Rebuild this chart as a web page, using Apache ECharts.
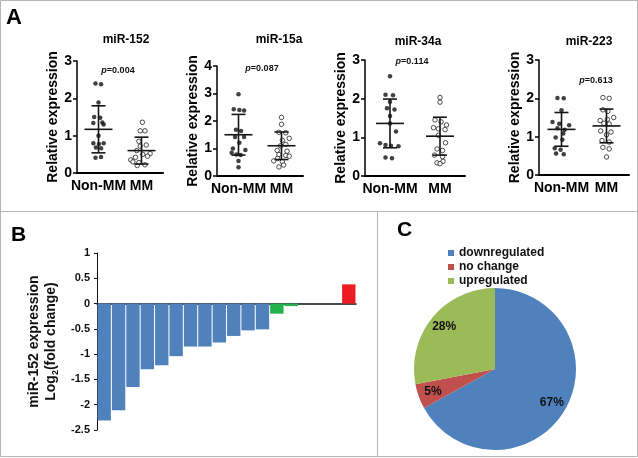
<!DOCTYPE html>
<html><head><meta charset="utf-8">
<script src="https://cdn.jsdelivr.net/npm/echarts@6/dist/echarts.min.js"></script>
<style>html,body{margin:0;padding:0;background:#fff}#c{width:638px;height:458px}</style>
</head><body><div id="c"></div>
<script>
// ---------- DATA ----------
const groups = ['Non-MM', 'MM'];
const panelTitles = ['miR-152', 'miR-15a', 'miR-34a', 'miR-223'];
const pValues = ['0.004', '0.087', '0.114', '0.613'];
const yMaxes = [3, 4, 3, 3];

// points: [jitter within category, relative expression]
const mir152NonMM = [[-0.07,2.40],[0.06,2.38],[0,1.89],[-0.10,1.50],[0.04,1.48],[-0.12,1.34],[0.09,1.35],[0.12,1.30],[0,1.00],[-0.12,0.80],[0.01,0.78],[0.12,0.80],[-0.06,0.68],[0.06,0.66],[-0.07,0.41],[0.06,0.43]];
const mir152MM = [[0.02,1.36],[-0.03,1.13],[0.08,1.13],[-0.06,0.85],[0.11,0.75],[-0.03,0.72],[-0.11,0.60],[0.20,0.52],[0.03,0.50],[0.14,0.45],[-0.14,0.42],[-0.25,0.35],[-0.20,0.30],[-0.06,0.28],[0.08,0.22],[-0.10,0.20]];
const mir15aNonMM = [[0,2.97],[-0.11,2.43],[0.02,2.40],[0.13,2.38],[-0.06,1.68],[0.06,1.64],[-0.08,1.42],[0.13,1.42],[0.02,1.21],[-0.13,1.00],[0.16,0.95],[-0.16,0.85],[-0.05,0.78],[0.05,0.76],[0,0.55],[0,0.32]];
const mir15aMM = [[0,2.13],[0,1.88],[-0.06,1.59],[0.10,1.57],[0.18,1.37],[0.02,1.30],[0.10,1.15],[-0.02,1.10],[-0.10,0.93],[0.13,0.90],[-0.06,0.78],[0.10,0.75],[0.18,0.72],[-0.09,0.64],[-0.18,0.55],[0.02,0.52],[0.05,0.40],[-0.06,0.33]];
const mir34aNonMM = [[0,2.58],[-0.09,2.10],[0.06,2.09],[0,1.92],[-0.06,1.75],[0.09,1.72],[0,1.55],[0,1.36],[0.12,1.15],[-0.20,0.85],[-0.09,0.80],[0.02,0.78],[0.17,0.77],[-0.09,0.48],[0.04,0.46]];
const mir34aMM = [[0,2.03],[0,1.91],[-0.10,1.45],[0.02,1.40],[0.13,1.32],[-0.13,1.25],[-0.03,1.22],[0.10,1.20],[-0.03,1.05],[0.11,0.86],[-0.06,0.70],[0.05,0.66],[-0.11,0.54],[0.05,0.50],[0.06,0.38],[-0.06,0.34],[0,0.32]];
const mir223NonMM = [[-0.09,2.01],[0.05,2.00],[0,1.69],[-0.20,1.38],[-0.05,1.34],[0.17,1.30],[-0.09,1.22],[0.07,1.18],[0.04,1.08],[-0.13,0.98],[0.02,0.92],[-0.15,0.70],[-0.02,0.66],[-0.12,0.56],[0.05,0.54]];
const mir223MM = [[-0.08,2.02],[0.06,2.00],[-0.08,1.70],[0.03,1.66],[0.16,1.50],[0.02,1.45],[-0.14,1.42],[-0.06,1.35],[0.06,1.33],[-0.13,1.15],[0.10,1.12],[0,1.05],[-0.10,0.90],[0.06,0.86],[-0.08,0.72],[0.06,0.68],[0,0.47]];

// mean and SD per group [Non-MM, MM]
const mir152Mean = [1.17, 0.60], mir152SD = [0.63, 0.36];
const mir15aMean = [1.50, 1.10], mir15aSD = [0.74, 0.50];
const mir34aMean = [1.36, 1.03], mir34aSD = [0.63, 0.49];
const mir223Mean = [1.19, 1.28], mir223SD = [0.44, 0.44];

// panel B
const bCategories = ['1','2','3','4','5','6','7','8','9','10','11','12','13','14','15','16','17','18'];
const bValues = [-2.31,-2.11,-1.65,-1.30,-1.22,-1.04,-0.85,-0.85,-0.77,-0.64,-0.53,-0.51,-0.20,-0.05,null,null,null,0.38];
const bGroup = ['down','down','down','down','down','down','down','down','down','down','down','down','small','small',null,null,null,'up'];
const bTicks = [-2.5,-2,-1.5,-1,-0.5,0,0.5,1];

// panel C
const pieNames = ['downregulated', 'no change', 'upregulated'];
const pieValues = [67, 5, 28];

// ---------- STYLE / LAYOUT ----------
const FONT = '"Liberation Sans", Arial, sans-serif';
const panelPts = [[mir152NonMM, mir152MM],[mir15aNonMM, mir15aMM],[mir34aNonMM, mir34aMM],[mir223NonMM, mir223MM]];
const panelMean = [mir152Mean, mir15aMean, mir34aMean, mir223Mean];
const panelSD = [mir152SD, mir15aSD, mir34aSD, mir223SD];
const layout = [
  {left:77, top:61, width:86, height:112, gap:14, title:[126,40], p:[118,71]},
  {left:217, top:66, width:86, height:110, gap:11, title:[279,40], p:[262,69]},
  {left:365, top:60, width:100, height:116, gap:13, title:[418,42], p:[412,62]},
  {left:539, top:60, width:90, height:115, gap:15, title:[589,42], p:[596,81]}
];
const barColor = {down:'#4f81bd', small:'#22b14c', up:'#ed1c24'};
const pieColors = ['#4f81bd', '#c0504d', '#9bbb59'];

const grids = [], xAxes = [], yAxes = [], series = [];
function errRender(params, api) {
  const x = api.value(0), m = api.value(1), s = api.value(2);
  const c = api.coord([x, m]), t = api.coord([x, m + s]), b = api.coord([x, m - s]);
  const st = {stroke:'#151515', lineWidth:1.6};
  return {type:'group', children:[
    {type:'line', shape:{x1:c[0]-14, y1:c[1], x2:c[0]+14, y2:c[1]}, style:st},
    {type:'line', shape:{x1:t[0]-7, y1:t[1], x2:t[0]+7, y2:t[1]}, style:st},
    {type:'line', shape:{x1:b[0]-7, y1:b[1], x2:b[0]+7, y2:b[1]}, style:st},
    {type:'line', shape:{x1:t[0], y1:t[1], x2:b[0], y2:b[1]}, style:st}
  ]};
}
layout.forEach((L, i) => {
  grids.push({left:L.left, top:L.top, width:L.width, height:L.height, containLabel:false});
  xAxes.push({type:'category', gridIndex:i, data:groups,
    axisLine:{lineStyle:{color:'#000', width:2}},
    axisTick:{alignWithLabel:true, length:4, lineStyle:{color:'#000', width:1.5}},
    axisLabel:{interval:0, color:'#000', fontWeight:'bold', fontSize:14, fontFamily:FONT, margin:6}});
  xAxes.push({type:'value', gridIndex:i, min:0, max:2, show:false});
  yAxes.push({type:'value', gridIndex:i, min:0, max:yMaxes[i], interval:1,
    axisLine:{show:true, lineStyle:{color:'#000', width:1.5}},
    axisTick:{show:true, length:4, lineStyle:{color:'#000', width:1.5}},
    splitLine:{show:false},
    axisLabel:{color:'#000', fontWeight:'bold', fontSize:14, fontFamily:FONT, margin:5},
    name:'Relative expression', nameLocation:'middle', nameGap:L.gap,
    nameTextStyle:{color:'#000', fontWeight:'bold', fontSize:14, fontFamily:FONT}});
  const xi = 2*i + 1;
  series.push({type:'scatter', xAxisIndex:xi, yAxisIndex:i, symbol:'circle', symbolSize:4.5,
    itemStyle:{color:'#111'}, data:panelPts[i][0].map(p => [0.5 + p[0], p[1]]), z:3});
  series.push({type:'scatter', xAxisIndex:xi, yAxisIndex:i, symbol:'circle', symbolSize:4.5,
    itemStyle:{color:'#fff', borderColor:'#222', borderWidth:1}, data:panelPts[i][1].map(p => [1.5 + p[0], p[1]]), z:3});
  series.push({type:'custom', xAxisIndex:xi, yAxisIndex:i, renderItem:errRender, z:5,
    encode:{x:0, y:1},
    data:groups.map((g, k) => [k + 0.5, panelMean[i][k], panelSD[i][k]])});
});

// panel B
grids.push({left:97, top:253, width:259, height:177});
xAxes.push({type:'category', gridIndex:4, data:bCategories,
  axisLine:{onZero:true, lineStyle:{color:'#111', width:1.5}}, axisTick:{show:false}, axisLabel:{show:false}});
yAxes.push({type:'value', gridIndex:4, min:bTicks[0], max:bTicks[bTicks.length-1], interval:0.5,
  axisLine:{show:true, lineStyle:{color:'#111', width:1}},
  axisTick:{show:true, length:3, lineStyle:{color:'#111'}},
  splitLine:{show:false},
  axisLabel:{color:'#111', fontWeight:'bold', fontSize:11, fontFamily:FONT, margin:7},
  name:'miR-152 expression\nLog{sub|2}(fold change)', nameLocation:'middle', nameGap:37,
  nameTextStyle:{color:'#111', fontWeight:'bold', fontSize:14, lineHeight:17, fontFamily:FONT,
    rich:{sub:{fontSize:9, fontWeight:'bold', fontFamily:FONT, verticalAlign:'bottom', color:'#111'}}}});
series.push({type:'bar', xAxisIndex:8, yAxisIndex:4, barCategoryGap:'7%',
  data:bValues.map((v, k) => ({value:v, itemStyle:{color: bGroup[k] ? barColor[bGroup[k]] : '#fff'}}))});

// panel C
series.push({type:'pie', center:[495,369], radius:81, startAngle:90, clockwise:true,
  label:{show:false}, labelLine:{show:false}, emphasis:{disabled:true},
  data:pieNames.map((n, k) => ({name:n, value:pieValues[k], itemStyle:{color:pieColors[k]}}))});
series.push({type:'pie', center:[495,369], radius:[45,81], startAngle:90, clockwise:true, silent:true,
  legendHoverLink:false, emphasis:{disabled:true}, labelLine:{show:false},
  label:{show:true, position:'inside', formatter:'{c}%', color:'#111', fontWeight:'bold', fontSize:12, fontFamily:FONT},
  data:pieNames.map((n, k) => ({name:n, value:pieValues[k], itemStyle:{color:'rgba(0,0,0,0)'}}))});

// texts & frames
const gfx = [
  {type:'rect', silent:true, z:-10, shape:{x:0.5, y:0.5, width:637, height:456}, style:{fill:'none', stroke:'#b5b5b5', lineWidth:1}},
  {type:'line', silent:true, shape:{x1:0.5, y1:211.5, x2:637.5, y2:211.5}, style:{stroke:'#b5b5b5', lineWidth:1}},
  {type:'line', silent:true, shape:{x1:377.5, y1:211.5, x2:377.5, y2:456.5}, style:{stroke:'#b5b5b5', lineWidth:1}},
  {type:'text', x:14, y:18, style:{text:'A', font:'bold 22px ' + FONT, fill:'#000', align:'center', verticalAlign:'middle'}},
  {type:'text', x:18.5, y:235.5, style:{text:'B', font:'bold 21px ' + FONT, fill:'#000', align:'center', verticalAlign:'middle'}},
  {type:'text', x:404.5, y:230.5, style:{text:'C', font:'bold 21px ' + FONT, fill:'#000', align:'center', verticalAlign:'middle'}}
];
layout.forEach((L, i) => {
  gfx.push({type:'text', x:L.title[0], y:L.title[1], style:{text:panelTitles[i], font:'bold 12px ' + FONT, fill:'#000', align:'center', verticalAlign:'middle'}});
  gfx.push({type:'text', x:L.p[0], y:L.p[1], style:{text:'{i|p}=' + pValues[i], fontSize:9, fontWeight:'bold', fontFamily:FONT, fill:'#111', align:'center', verticalAlign:'middle',
    rich:{i:{fontStyle:'italic', fontWeight:'bold', fontSize:9, fontFamily:FONT, fill:'#111'}}}});
});

const chart = echarts.init(document.getElementById('c'));
chart.setOption({
  animation:false,
  backgroundColor:'#fff',
  grid:grids, xAxis:xAxes, yAxis:yAxes, series:series,
  legend:{orient:'vertical', left:443, top:242, itemWidth:6, itemHeight:6, itemGap:2, icon:'rect', selectedMode:false,
    data:pieNames, textStyle:{color:'#111', fontWeight:'bold', fontSize:12, fontFamily:FONT}},
  graphic:gfx
});
</script>
</body></html>
